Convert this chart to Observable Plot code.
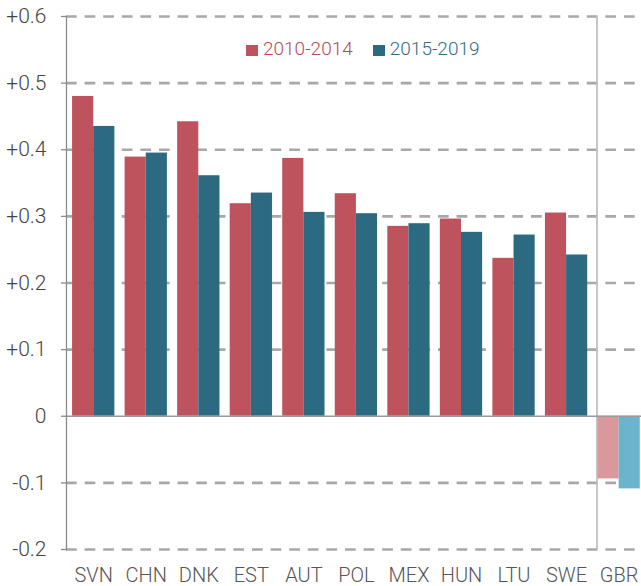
<!DOCTYPE html>
<html>
<head>
<meta charset="utf-8">
<script src="https://cdn.jsdelivr.net/npm/d3@7"></script>
<script src="https://cdn.jsdelivr.net/npm/@observablehq/plot@0.6"></script>
<style>
  html, body { margin: 0; padding: 0; background: #fff; }
  #wrap { position: relative; width: 641px; height: 586px; font-family: Roboto, "Open Sans", sans-serif; }
  #legend { position: absolute; top: 37px; left: 246px; display: flex; align-items: baseline; font-size: 19px; font-weight: 300; white-space: nowrap; }
  #legend .sw { display: inline-block; width: 12px; height: 11px; margin-right: 5px; position: relative; top: 1px; }
  #legend .item { display: flex; align-items: baseline; margin-right: 20px; }
</style>
</head>
<body>
<div id="wrap"><div id="chart"></div><div id="legend"></div></div>
<script>
// ---- data ----
const countries = ["SVN","CHN","DNK","EST","AUT","POL","MEX","HUN","LTU","SWE","GBR"];
const v2010_2014 = [0.480, 0.389, 0.442, 0.319, 0.387, 0.334, 0.285, 0.296, 0.237, 0.305, -0.094];
const v2015_2019 = [0.435, 0.395, 0.361, 0.335, 0.306, 0.304, 0.289, 0.276, 0.272, 0.242, -0.109];
const seriesNames = ["2010-2014", "2015-2019"];
const yTicks = [-0.2, -0.1, 0, 0.1, 0.2, 0.3, 0.4, 0.5, 0.6];
const yTickLabels = ["-0.2", "-0.1", "0", "+0.1", "+0.2", "+0.3", "+0.4", "+0.5", "+0.6"];
const highlighted = "GBR";

// ---- style ----
const colDark = {"2010-2014": "#be535d", "2015-2019": "#2c6a82"};
const colLight = {"2010-2014": "#da979c", "2015-2019": "#6ab4ce"};
const textCol = {"2010-2014": "#b84a55", "2015-2019": "#2e6e85"};

const rows = [];
countries.forEach((c, i) => {
  rows.push({country: c, period: seriesNames[0], value: v2010_2014[i]});
  rows.push({country: c, period: seriesNames[1], value: v2015_2019[i]});
});
const fillOf = d => (d.country === highlighted ? colLight : colDark)[d.period];

const W = 641, H = 586, mL = 66, mR = 0, mT = 16, mB = 37;
const pIn = 0.195, pOut = 0.0695;
const step = (W - mL - mR) / (countries.length - pIn + 2 * pOut);
const half = step * (1 - pIn) / 2;
const labelOf = new Map(yTicks.map((t, i) => [t, yTickLabels[i]]));

const chart = Plot.plot({
  width: W, height: H,
  marginLeft: mL, marginRight: mR, marginTop: mT, marginBottom: mB,
  style: {fontFamily: "Roboto, sans-serif", background: "#fff", overflow: "visible"},
  x: {domain: countries, paddingInner: pIn, paddingOuter: pOut, align: 0.83, round: false, axis: null, label: null},
  y: {domain: [-0.2, 0.6], axis: null, label: null},
  color: {type: "identity"},
  marks: [
    Plot.ruleY(yTicks.filter(t => t !== 0), {stroke: "#a8a8a8", strokeWidth: 2.6, strokeDasharray: "10.7,7.9"}),
    Plot.ruleX([highlighted], {x: d => d, dx: -half - 1, stroke: "#bdbdbd", strokeWidth: 1.7}),
    Plot.barY(rows.filter(d => d.period === seriesNames[0]), {x: "country", y: "value", fill: fillOf, insetRight: half}),
    Plot.barY(rows.filter(d => d.period === seriesNames[1]), {x: "country", y: "value", fill: fillOf, insetLeft: half}),
    Plot.ruleY([0], {stroke: "#9a9a9a", strokeWidth: 1.5}),
    Plot.frame({anchor: "left", stroke: "#8a8a8a", strokeWidth: 1.3}),
    Plot.axisY({ticks: yTicks, tickFormat: t => labelOf.get(t), tickSize: 5, tickPadding: 15, stroke: "#8a8a8a", fill: "#444", fontSize: 21, fontWeight: 300, strokeWidth: 1.3, label: null}),
    Plot.axisX({tickSize: 0, tickPadding: 18, fill: "#555", fontSize: 20, fontWeight: 300, label: null})
  ]
});
document.getElementById("chart").appendChild(chart);

const legend = document.getElementById("legend");
seriesNames.forEach(s => {
  const item = document.createElement("span");
  item.className = "item";
  const sw = document.createElement("span");
  sw.className = "sw";
  sw.style.background = colDark[s];
  const tx = document.createElement("span");
  tx.textContent = s;
  tx.style.color = textCol[s];
  item.appendChild(sw); item.appendChild(tx);
  legend.appendChild(item);
});
</script>
</body>
</html>
